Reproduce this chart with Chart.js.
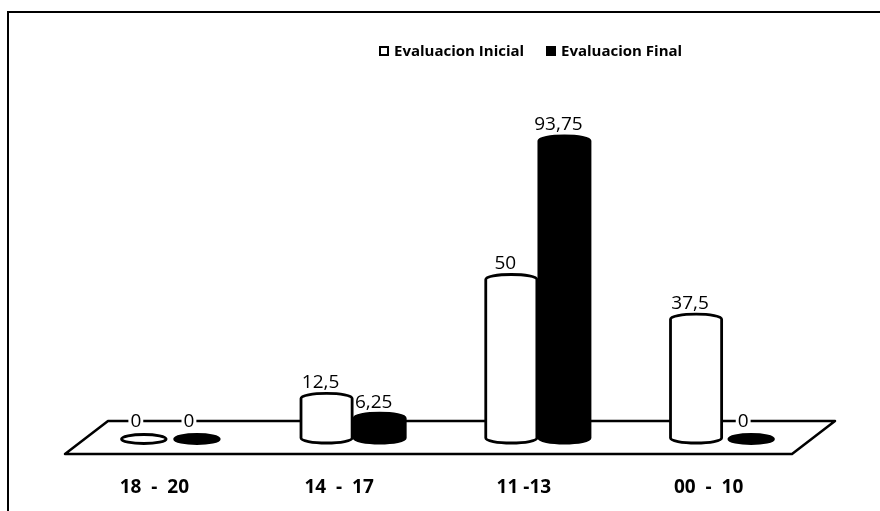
<!DOCTYPE html>
<html>
<head>
<meta charset="utf-8">
<script src="https://cdn.jsdelivr.net/npm/chart.js@4.4.1/dist/chart.umd.min.js"></script>
<style>
  html, body { margin: 0; padding: 0; background: #fff; }
  #wrap { position: relative; width: 880px; height: 511px; overflow: hidden; }
  #frame { position: absolute; left: 7px; top: 11px; width: 900px; height: 520px;
           border-left: 2px solid #000; border-top: 2px solid #000; pointer-events: none; }
</style>
</head>
<body>
<div id="wrap">
  <canvas id="c" width="880" height="511"></canvas>
  <div id="frame"></div>
</div>
<script>
// Score ranges and the share of students (%) in each, before and after
const categories = ['18  -  20', '14  -  17', '11 -13', '00  -  10'];
const seriesNames = ['Evaluacion Inicial', 'Evaluacion Final'];
const inicial = [0, 12.5, 50, 37.5];
const final = [0, 6.25, 93.75, 0];
const seriesFill = ['#ffffff', '#000000'];

const LABEL_FONT = '500 19px "Open Sans"';
const fmt = v => String(v).replace('.', ',');

// Flat "floor" slab under the columns, anchored to the value-0 line
const floorPlugin = {
  id: 'floor',
  beforeDatasetsDraw(chart) {
    const ctx = chart.ctx;
    const y0 = chart.scales.y.getPixelForValue(0);
    const { left, right } = chart.chartArea;
    const backY = y0 - 17, frontY = y0 + 16;
    ctx.save();
    ctx.beginPath();
    ctx.moveTo(left - 11, frontY);
    ctx.lineTo(left + 32, backY);
    ctx.lineTo(right + 20, backY);
    ctx.lineTo(right - 23, frontY);
    ctx.closePath();
    ctx.fillStyle = '#fff';
    ctx.fill();
    ctx.lineWidth = 2.5;
    ctx.strokeStyle = '#000';
    ctx.lineJoin = 'round';
    ctx.stroke();
    ctx.restore();
  }
};

// Columns are drawn as cylinders from each bar element's geometry
const cylinderPlugin = {
  id: 'cylinders',
  beforeDatasetDraw() { return false; },
  afterDatasetsDraw(chart) {
    const ctx = chart.ctx;
    const ry = 5;
    ctx.save();
    chart.data.datasets.forEach((ds, di) => {
      const meta = chart.getDatasetMeta(di);
      meta.data.forEach((bar, i) => {
        const v = ds.data[i];
        const { x, y, base, width } = bar.getProps(['x', 'y', 'base', 'width'], true);
        ctx.lineWidth = 2.8;
        ctx.strokeStyle = '#000';
        ctx.lineJoin = 'round';
        ctx.fillStyle = ds.backgroundColor;
        if (v === 0) {
          ctx.beginPath();
          ctx.ellipse(x + 2, base + 1, width * 0.42, 4.5, 0, 0, Math.PI * 2);
          ctx.fill();
          ctx.stroke();
          return;
        }
        const L = x - width / 2 + 1, R = x + width / 2 - 1;
        const rx = (R - L) / 2;
        ctx.beginPath();
        ctx.moveTo(L, base);
        ctx.lineTo(L, y);
        ctx.ellipse(x, y, rx, ry, 0, Math.PI, Math.PI * 2);
        ctx.lineTo(R, base);
        ctx.ellipse(x, base, rx, ry, 0, 0, Math.PI);
        ctx.closePath();
        ctx.fill();
        ctx.stroke();
      });
    });

    // value labels above each column
    ctx.font = LABEL_FONT;
    ctx.textAlign = 'center';
    ctx.textBaseline = 'middle';
    chart.data.datasets.forEach((ds, di) => {
      const meta = chart.getDatasetMeta(di);
      meta.data.forEach((bar, i) => {
        const v = ds.data[i];
        const tx = bar.x - 6, ty = bar.y - 17;
        const txt = fmt(v);
        if (v === 0) {
          const w = ctx.measureText(txt).width;
          ctx.fillStyle = '#fff';
          ctx.fillRect(tx - w / 2 - 2, ty - 8, w + 4, 16);
        }
        ctx.fillStyle = '#000';
        ctx.fillText(txt, tx, ty + 1);
      });
    });
    ctx.restore();
  }
};

// Legend row at the top
const legendPlugin = {
  id: 'topLegend',
  afterDraw(chart) {
    const ctx = chart.ctx;
    const items = [{ mx: 379, tx: 394 }, { mx: 546, tx: 561 }];
    const cy = 51;
    ctx.save();
    ctx.font = 'bold 15px "Open Sans"';
    ctx.textBaseline = 'middle';
    ctx.textAlign = 'left';
    chart.data.datasets.forEach((ds, di) => {
      const it = items[di];
      ctx.fillStyle = ds.backgroundColor;
      ctx.fillRect(it.mx, cy - 5, 10, 10);
      ctx.lineWidth = 2;
      ctx.strokeStyle = '#000';
      ctx.strokeRect(it.mx + 1, cy - 4, 8, 8);
      ctx.fillStyle = '#000';
      ctx.fillText(ds.label, it.tx, cy + 1);
    });
    ctx.restore();
  }
};

new Chart(document.getElementById('c'), {
  type: 'bar',
  data: {
    labels: categories,
    datasets: [
      { label: seriesNames[0], data: inicial, backgroundColor: seriesFill[0] },
      { label: seriesNames[1], data: final, backgroundColor: seriesFill[1] }
    ]
  },
  options: {
    responsive: false,
    animation: false,
    devicePixelRatio: 1,
    layout: { padding: { left: 76, right: 65, top: 121, bottom: 13 } },
    datasets: { bar: { barPercentage: 1, categoryPercentage: 0.575 } },
    plugins: { legend: { display: false }, tooltip: { enabled: false } },
    scales: {
      x: {
        grid: { display: false, drawTicks: false },
        border: { display: false },
        afterFit(scale) { scale.height = 60; },
        ticks: {
          padding: 38,
          labelOffset: -14,
          color: '#000',
          font: { family: 'Open Sans', size: 19, weight: 'bold' }
        }
      },
      y: { display: false, min: 0, max: 100 }
    }
  },
  plugins: [floorPlugin, cylinderPlugin, legendPlugin]
});
</script>
</body>
</html>
